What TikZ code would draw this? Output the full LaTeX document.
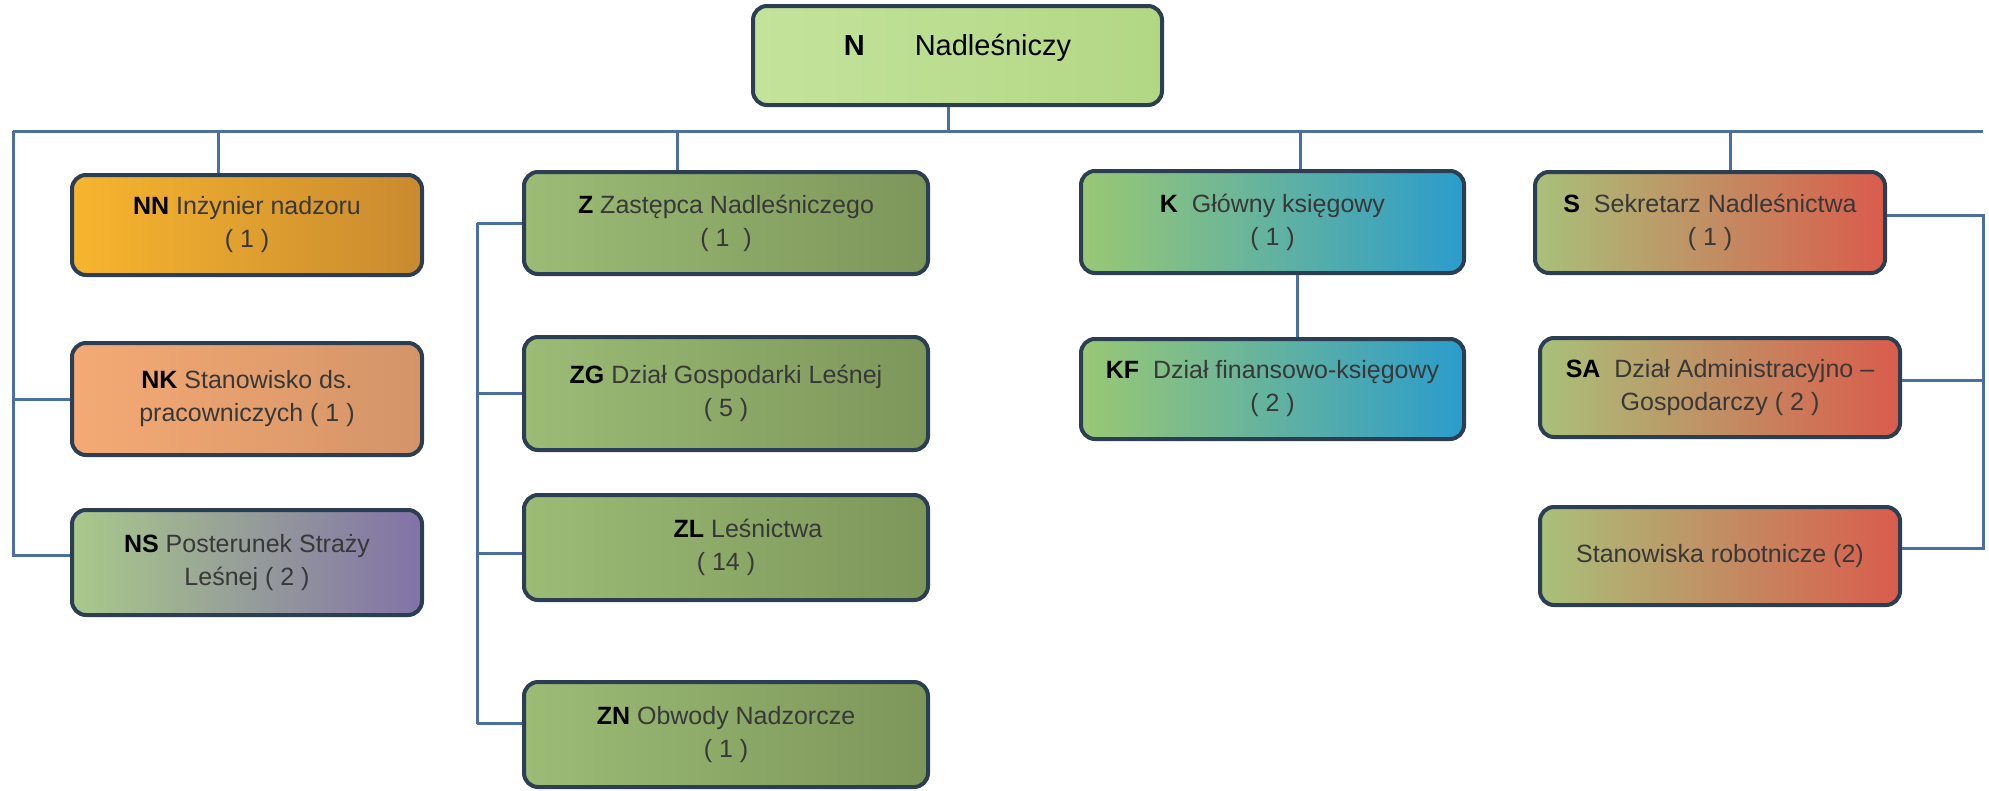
\documentclass[tikz,border=0pt]{standalone}
\usepackage{fontspec}
\setmainfont{Liberation Sans}
\definecolor{boxline}{HTML}{2C3E52}
\definecolor{lineblue}{HTML}{4A6FA5}
\definecolor{txt}{HTML}{383838}
\newcommand{\bk}[1]{\textcolor{black}{\textbf{#1}}}
\definecolor{ngL}{HTML}{C3E39B}
\definecolor{ngR}{HTML}{B2D784}
\definecolor{orL}{HTML}{F7B52E}
\definecolor{orR}{HTML}{C98A30}
\definecolor{peL}{HTML}{F5AA74}
\definecolor{peR}{HTML}{D39468}
\definecolor{nsL}{HTML}{A9C98A}
\definecolor{nsM}{HTML}{98A088}
\definecolor{nsR}{HTML}{8272A8}
\definecolor{olL}{HTML}{9CBC76}
\definecolor{olR}{HTML}{7D965A}
\definecolor{kL}{HTML}{9AC874}
\definecolor{kM}{HTML}{36A39F}
\definecolor{kR}{HTML}{2B9CCC}
\definecolor{sL}{HTML}{A9C07A}
\definecolor{sM}{HTML}{C9A070}
\definecolor{sR}{HTML}{DA5C4C}
\tikzset{
  box/.style={draw=boxline, line width=4pt, rounded corners=14pt, align=center,
    inner sep=0pt, text=txt, font=\fontsize{25}{33}\selectfont},
  conn/.style={draw=lineblue, line width=3pt},
}
\begin{document}
\begin{tikzpicture}[x=1pt,y=-1pt]
\useasboundingbox (0,0) rectangle (1989,790);
% top box
\node[box, left color=ngL, right color=ngR, minimum width=409pt, minimum height=99pt, text height=21pt, text depth=21pt,
  font=\fontsize{29}{34}\selectfont] (N) at (957.5,55.5) {\bk{N}\hspace{50pt}\textcolor{black}{Nadleśniczy}};
% left column
\node[box, left color=orL, right color=orR, minimum width=350pt, minimum height=100pt] (NN) at (247,225)
  {\bk{NN} Inżynier nadzoru\\( 1 )};
\node[box, left color=peL, right color=peR, minimum width=350pt, minimum height=112pt] (NK) at (247,399)
  {\bk{NK} Stanowisko ds.\\pracowniczych ( 1 )};
\node[box, left color=nsL, middle color=nsM, right color=nsR, minimum width=350pt, minimum height=105pt] (NS) at (247,562.5)
  {\bk{NS} Posterunek Straży\\Leśnej ( 2 )};
% middle column
\node[box, left color=olL, right color=olR, minimum width=404pt, minimum height=102pt] (Z) at (726,223)
  {\bk{Z} Zastępca Nadleśniczego\\( 1 \ )};
\node[box, left color=olL, right color=olR, minimum width=404pt, minimum height=113pt] (ZG) at (726,393.5)
  {\bk{ZG} Dział Gospodarki Leśnej\\( 5 )};
\node[box, left color=olL, right color=olR, minimum width=404pt, minimum height=105pt] (ZL) at (726,547.5)
  {\hspace*{44pt}\bk{ZL} Leśnictwa\\( 14 )};
\node[box, left color=olL, right color=olR, minimum width=404pt, minimum height=105pt] (ZN) at (726,734.5)
  {\bk{ZN} Obwody Nadzorcze\\( 1 )};
% K column
\node[box, left color=kL, middle color=kM, right color=kR, minimum width=383pt, minimum height=102pt] (K) at (1272.5,222)
  {\bk{K}\ \ Główny księgowy\\( 1 )};
\node[box, left color=kL, middle color=kM, right color=kR, minimum width=383pt, minimum height=100pt] (KF) at (1272.5,389)
  {\bk{KF}\ \ Dział finansowo-księgowy\\( 2 )};
% S column
\node[box, left color=sL, middle color=sM, right color=sR, minimum width=350pt, minimum height=101pt] (S) at (1710,222.5)
  {\bk{S}\ \ Sekretarz Nadleśnictwa\\( 1 )};
\node[box, left color=sL, middle color=sM, right color=sR, minimum width=360pt, minimum height=99pt] (SA) at (1720,387.5)
  {\bk{SA}\ \ Dział Administracyjno –\\Gospodarczy ( 2 )};
\node[box, left color=sL, middle color=sM, right color=sR, minimum width=360pt, minimum height=98pt] (ST) at (1720,556)
  {Stanowiska robotnicze (2)};
% connector coordinates
\coordinate (hlL) at (13,131);
\coordinate (hlR) at (1983,131);
\coordinate (mv) at (477,131);
% connectors
\draw[conn] ([xshift=-9.5pt]N.south) -- ([xshift=-9.5pt]N.south |- hlL);
\draw[conn] (hlL) -- (hlR);
\draw[conn] ([xshift=-29pt]NN.north |- hlL) -- ([xshift=-29pt]NN.north);
\draw[conn] ([xshift=-49pt]Z.north |- hlL) -- ([xshift=-49pt]Z.north);
\draw[conn] ([xshift=27.5pt]K.north |- hlL) -- ([xshift=27.5pt]K.north);
\draw[conn] ([xshift=20pt]S.north |- hlL) -- ([xshift=20pt]S.north);
% left bus
\draw[conn] (hlL) |- ([yshift=7pt]NS.west);
\draw[conn] (hlL |- NK.west) -- (NK.west);
% middle bus
\draw[conn] (mv |- Z.west) -- (Z.west);
\draw[conn] (mv |- Z.west) -- ([yshift=11pt]ZN.west -| mv);
\draw[conn] ([yshift=11pt]ZN.west -| mv) -- ([yshift=11pt]ZN.west);
\draw[conn] (mv |- ZG.west) -- (ZG.west);
\draw[conn] ([yshift=-6pt]ZL.west -| mv) -- ([yshift=-6pt]ZL.west);
% K to KF
\draw[conn] ([xshift=25pt]K.south) -- ([xshift=25pt]KF.north);
% right bus
\draw[conn] ([yshift=7pt]S.east) -| ([yshift=8pt]ST.east -| hlR) -- ([yshift=8pt]ST.east);
\draw[conn] ([yshift=7pt]SA.east) -- ([yshift=7pt]SA.east -| hlR);
\end{tikzpicture}
\end{document}
